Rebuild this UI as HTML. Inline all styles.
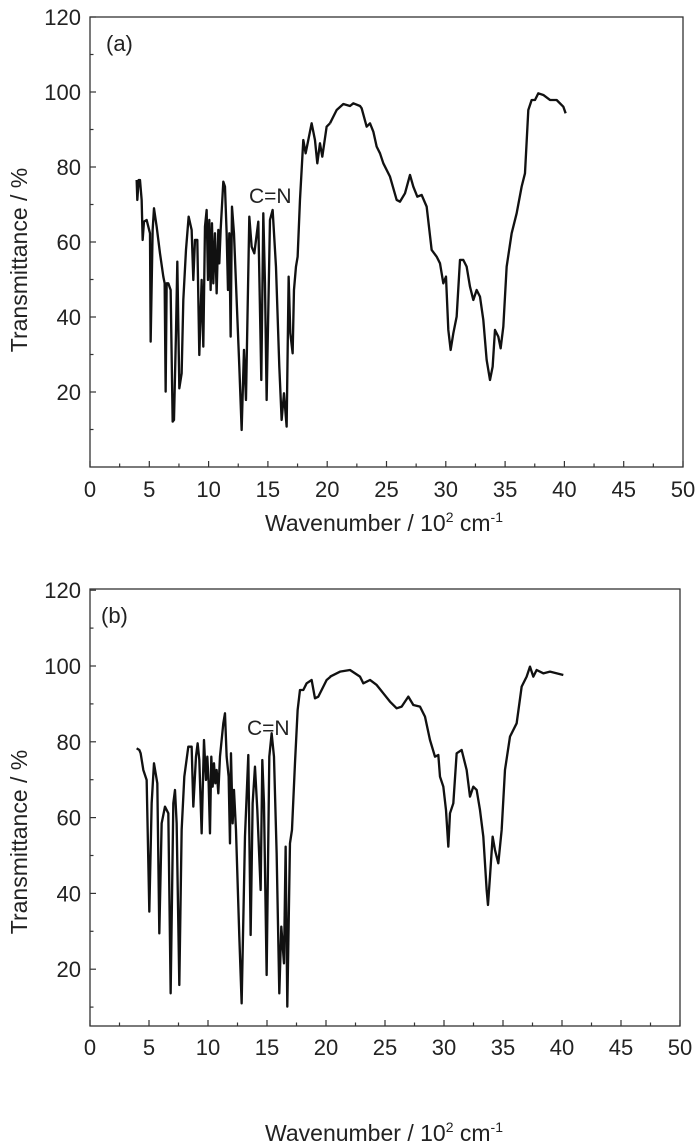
<!DOCTYPE html>
<html><head><meta charset="utf-8"><style>
html,body{margin:0;padding:0;background:#fff;}
svg{display:block;}
text{font-family:"Liberation Sans",Arial,sans-serif;fill:#222;}
</style></head><body>
<svg width="700" height="1146" viewBox="0 0 700 1146" xmlns="http://www.w3.org/2000/svg">
<g fill="none" stroke="#333" stroke-width="1.3">
<rect x="90" y="17" width="593" height="450"/>
<rect x="90" y="589" width="590" height="437"/>
</g>
<g id="ticks" stroke="#333" stroke-width="1.2"></g>
<g font-size="22">
<g id="labels"></g>
</g>
<text x="106" y="51" font-size="22">(a)</text>
<text x="101" y="623" font-size="22">(b)</text>
<text x="249" y="203" font-size="21">C=N</text>
<text x="247" y="735" font-size="21">C=N</text>
<text transform="translate(27,260) rotate(-90)" text-anchor="middle" font-size="23">Transmittance / %</text>
<text transform="translate(27,842) rotate(-90)" text-anchor="middle" font-size="23">Transmittance / %</text>
<text x="384" y="531" text-anchor="middle" font-size="23">Wavenumber / 10<tspan dy="-9" font-size="14">2</tspan><tspan dy="9"> cm</tspan><tspan dy="-9" font-size="14">-1</tspan></text>
<text x="384" y="1141" text-anchor="middle" font-size="23">Wavenumber / 10<tspan dy="-9" font-size="14">2</tspan><tspan dy="9"> cm</tspan><tspan dy="-9" font-size="14">-1</tspan></text>
<g fill="none" stroke="#111" stroke-width="7" stroke-linejoin="round">
<path transform="scale(0.3333)" d="M410,540 L412,600 416,540 420,540 425,600 428,720 432,665 440,660 450,700 452,1025 458,690 462,625 470,680 480,760 490,830 494,850 497,1175 500,850 505,850 512,870 518,1265 522,1260 528,1000 532,785 538,1165 545,1120 550,900 558,750 566,650 575,690 580,840 585,720 592,720 598,1065 605,840 610,1040 615,680 620,630 624,840 628,660 632,870 636,670 640,850 645,700 650,880 655,690 658,790 662,690 670,545 675,560 680,700 684,870 688,700 692,1010 696,620 702,700 710,900 718,1100 725,1290 732,1050 738,1200 748,650 755,740 763,760 775,665 784,1140 790,640 795,850 800,1200 810,660 818,630 828,800 838,1100 845,1260 852,1180 860,1280 866,830 871,1000 878,1060 882,870 888,800 893,770 900,600 910,420 917,460 925,420 935,370 945,420 952,490 960,430 967,470 980,380 990,370"/>
<path transform="translate(330,0) scale(0.3333)" d="M0,370 L20,330 40,312 60,318 70,310 90,318 95,325 110,380 120,370 130,395 140,440 150,460 160,490 180,530 200,600 210,605 225,580 240,525 250,560 262,590 275,585 290,620 305,750 320,770 330,790 340,850 348,830 355,990 362,1050 370,1000 380,950 390,780 400,780 410,800 420,860 430,900 440,870 450,890 460,960 470,1080 480,1140 488,1100 495,990 505,1010 512,1045 520,980 530,800 545,700 560,640 575,560 585,520 595,330 605,300 615,300 625,280 640,285 660,300 680,300 700,320 707,340"/>
<path transform="translate(0,570) scale(0.3333)" d="M410,535 L418,540 422,550 430,600 440,630 448,1025 455,700 462,580 472,640 478,1090 485,760 495,710 505,730 512,1270 520,700 525,660 530,760 538,1245 545,780 553,620 565,530 575,530 580,710 588,560 593,520 598,570 605,790 612,510 618,630 622,560 626,640 630,790 634,560 638,650 642,580 646,640 650,600 655,670 660,560 670,460 675,430 680,560 686,620 690,820 693,550 698,760 702,660 708,780 718,1100 725,1300 735,800 745,555 752,1095 758,700 765,590 772,720 782,960 787,570 792,700 800,1215 808,560 815,490 822,560 830,850 838,1270 844,1070 852,1180 857,830 862,1310 870,820 876,780 885,580 893,420 900,360 910,360 920,340 935,330 945,385 955,380 965,360 980,330 992,320"/>
<path transform="translate(330,570) scale(0.3333)" d="M0,320 L30,305 60,300 90,320 100,340 120,330 140,345 160,370 180,395 200,415 215,410 235,380 250,405 270,410 285,440 300,510 315,560 325,555 330,620 340,650 348,720 355,830 360,730 370,700 380,550 395,540 410,600 420,680 430,650 440,660 450,720 460,800 470,960 474,1005 480,920 488,800 495,840 505,880 515,780 525,600 540,500 560,460 575,350 590,320 600,290 610,320 620,300 640,310 660,305 700,315"/>
</g>
<script>
(function(){
var ns="http://www.w3.org/2000/svg",t=document.getElementById("ticks"),l=document.getElementById("labels");
function ln(x1,y1,x2,y2){var e=document.createElementNS(ns,"line");e.setAttribute("x1",x1);e.setAttribute("y1",y1);e.setAttribute("x2",x2);e.setAttribute("y2",y2);t.appendChild(e);}
function tx(x,y,s,a){var e=document.createElementNS(ns,"text");e.setAttribute("x",x);e.setAttribute("y",y);e.setAttribute("text-anchor",a);e.textContent=s;l.appendChild(e);}
var P=[{x0:90,sx:11.86,y0:467,sy:3.75,bot:467,xl:497},{x0:90,sx:11.8,y0:1045,sy:3.79,bot:1026,xl:1055}];
P.forEach(function(p){
for(var v=0;v<=50;v+=2.5){var x=p.x0+v*p.sx;var maj=(v%5==0);ln(x,p.bot,x,p.bot-(maj?6:3.5));if(maj)tx(x,p.xl,String(v),"middle");}
for(var v=10;v<=120;v+=10){var y=p.y0-v*p.sy;if(y>p.bot)continue;var maj=(v%20==0);ln(90,y,90+(maj?6:3.5),y);if(maj)tx(81,y+8,String(v),"end");}
});
})();
</script>
</svg>
</body></html>
